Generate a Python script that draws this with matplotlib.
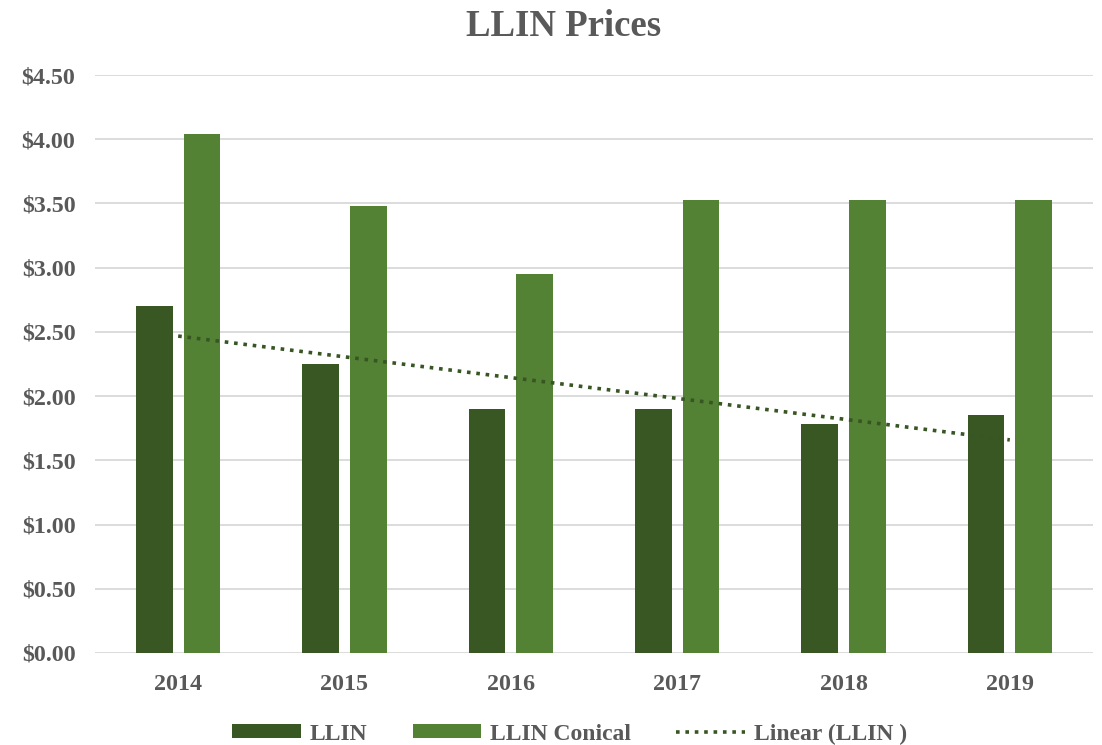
import numpy as np
import matplotlib.pyplot as plt
from matplotlib.ticker import FuncFormatter

years = ['2014', '2015', '2016', '2017', '2018', '2019']
llin = [2.70, 2.25, 1.90, 1.90, 1.78, 1.85]
llin_conical = [4.04, 3.48, 2.95, 3.53, 3.53, 3.53]

plt.rcParams['font.family'] = ['Liberation Serif', 'DejaVu Serif']
plt.rcParams['font.weight'] = 'bold'
text_color = '#595959'

fig = plt.figure(figsize=(11.02, 7.45), dpi=100)
ax = fig.add_axes([0.0862, 0.1235, 0.9056, 0.7758])

x = np.arange(len(years))
w = 0.22
b1 = ax.bar(x - 0.143, llin, w, color='#385723', label='LLIN', zorder=3)
b2 = ax.bar(x + 0.143, llin_conical, w, color='#548235', label='LLIN Conical', zorder=3)

# linear trendline on LLIN
slope, icpt = np.polyfit(x, llin, 1)
ln, = ax.plot(x, slope * x + icpt, color='#375623', linestyle=(0, (1, 1.6)),
              linewidth=2.6, label='Linear (LLIN )', zorder=4)

ax.set_xlim(-0.5, 5.5)
ax.set_ylim(0, 4.5)
ax.set_yticks(np.arange(0, 4.51, 0.5))
ax.yaxis.set_major_formatter(FuncFormatter(lambda v, p: f'${v:.2f}'))
ax.set_xticks(x)
ax.set_xticklabels(years)
ax.grid(axis='y', color='#D9D9D9', linewidth=1.3, zorder=0)
for s in ax.spines.values():
    s.set_visible(False)
ax.tick_params(length=0, labelsize=17.3, labelcolor=text_color)
ax.tick_params(axis='x', pad=15)
ax.tick_params(axis='y', pad=14)

fig.suptitle('LLIN Prices', fontsize=26.5, fontweight='bold', color=text_color,
             x=0.511, y=0.988)

fig.legend([b1, b2, ln], ['LLIN', 'LLIN Conical', 'Linear (LLIN )'],
           loc='lower center', ncol=3, frameon=False, fontsize=17,
           bbox_to_anchor=(0.517, -0.028), handlelength=2.9, handleheight=0.55,
           handletextpad=0.4, columnspacing=1.9, labelcolor=text_color)

fig.savefig('out.png', dpi=100)
